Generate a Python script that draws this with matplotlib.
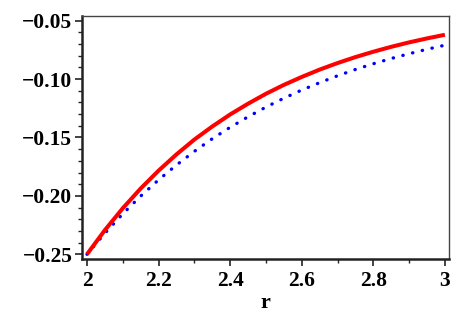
import matplotlib
matplotlib.use("Agg")
import matplotlib.pyplot as plt
from matplotlib.ticker import MultipleLocator, FuncFormatter

r = [2.00, 2.05, 2.10, 2.15, 2.20, 2.25, 2.30, 2.35, 2.40, 2.45, 2.50,
     2.55, 2.60, 2.65, 2.70, 2.75, 2.80, 2.85, 2.90, 2.95, 3.00]
red_vals = [-0.2500, -0.2293, -0.2106, -0.1937, -0.1784, -0.1645, -0.1518,
            -0.1406, -0.1303, -0.1211, -0.1126, -0.1050, -0.0982, -0.0919,
            -0.0863, -0.0812, -0.0766, -0.0724, -0.0686, -0.0652, -0.0621]
blue_vals = [-0.2500, -0.2320, -0.2154, -0.2002, -0.1863, -0.1736, -0.1619,
             -0.1511, -0.1413, -0.1323, -0.1240, -0.1164, -0.1094, -0.1031,
             -0.0972, -0.0918, -0.0869, -0.0824, -0.0783, -0.0745, -0.0710]
xticks = [2, 2.2, 2.4, 2.6, 2.8, 3]
yticks = [-0.25, -0.20, -0.15, -0.10, -0.05]

plt.rcParams['font.family'] = ['Liberation Serif', 'DejaVu Serif']
plt.rcParams['font.weight'] = 'bold'

fig = plt.figure(figsize=(4.58, 3.19), dpi=100)
ax = fig.add_axes([0.179, 0.189, 0.801, 0.762])

ax.plot(r, red_vals, color='#ff0000', lw=2.9, solid_capstyle='butt',
        solid_joinstyle='round', zorder=3)
ax.plot(r, blue_vals, color='#0000ff', lw=2.4, linestyle=(0, (0.1, 2.9)),
        dash_capstyle='round', zorder=2)

ax.set_xlim(1.986, 3.011)
ax.set_ylim(-0.2538, -0.0457)
ax.set_xticks(xticks)
ax.set_yticks(yticks)
ax.xaxis.set_minor_locator(MultipleLocator(0.1))
ax.yaxis.set_minor_locator(MultipleLocator(0.01))

ax.xaxis.set_major_formatter(FuncFormatter(lambda v, p: ('%g' % v)))
ax.yaxis.set_major_formatter(FuncFormatter(lambda v, p: ('\u2212%.2f' % abs(v))))

ax.tick_params(axis='both', which='major', direction='out', length=5, width=1.2,
               labelsize=15.5, color='#222222', pad=2)
ax.tick_params(axis='x', which='major', pad=3.5)
ax.tick_params(axis='both', which='minor', direction='out', length=3, width=1.0,
               color='#222222')
ax.tick_params(top=False, right=False)
for lab in ax.get_xticklabels() + ax.get_yticklabels():
    lab.set_fontweight('bold')

for s in ['left', 'bottom']:
    ax.spines[s].set_linewidth(1.8)
    ax.spines[s].set_color('#222222')
for s in ['top', 'right']:
    ax.spines[s].set_linewidth(1.0)
    ax.spines[s].set_color('#444444')

ax.set_xlabel('r', fontsize=16, fontweight='bold', labelpad=1.5)

fig.savefig('out.png', dpi=100)
